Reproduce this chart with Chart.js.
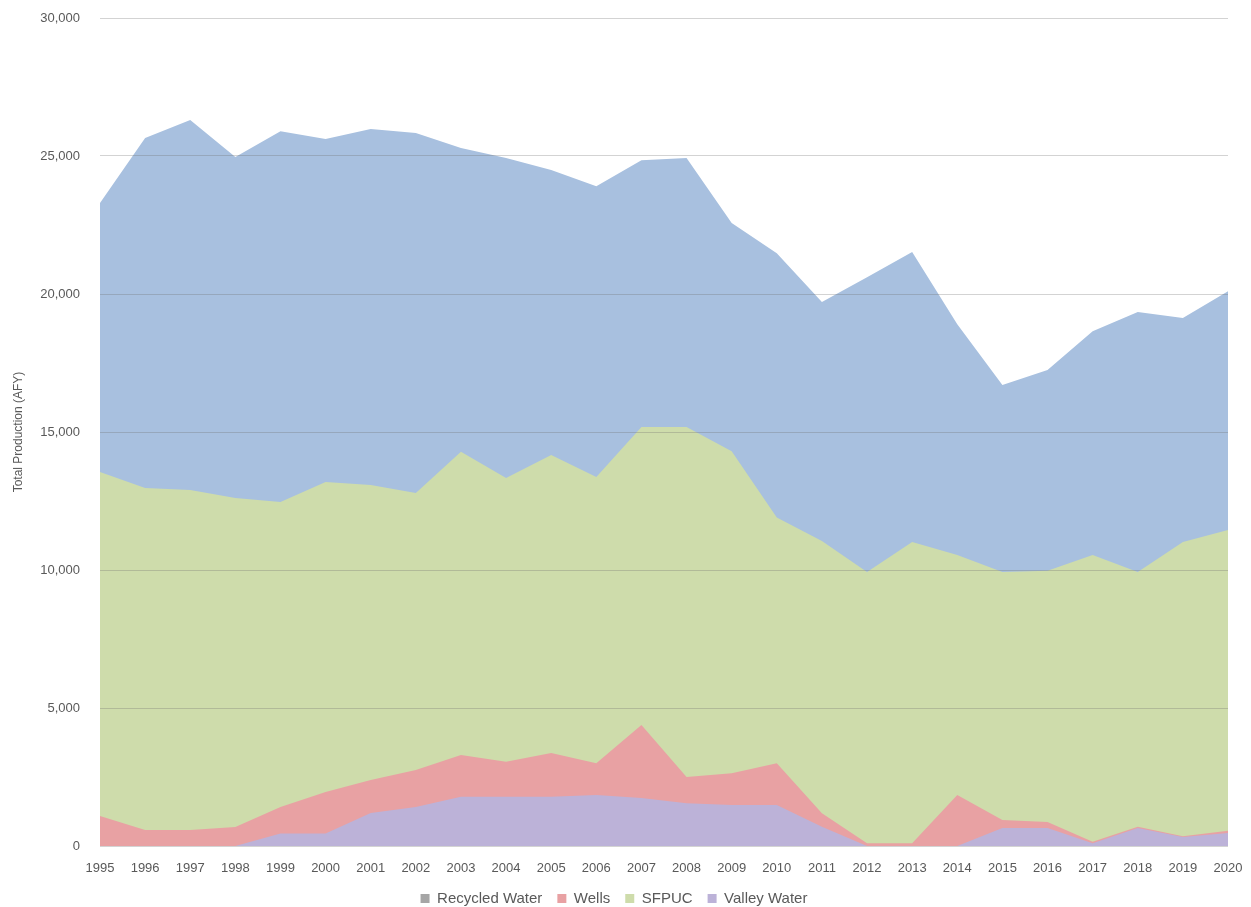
<!DOCTYPE html>
<html>
<head>
<meta charset="utf-8">
<script src="https://cdn.jsdelivr.net/npm/chart.js@4"></script>
<style>
    html, body { margin: 0; padding: 0; background: #fff; }
    #wrap { width: 1251px; height: 907px; }
</style>
</head>
<body>
<div id="wrap"><canvas id="productionChart" width="1251" height="907"></canvas></div>
<script>
// Years on the x axis
const years = ['1995', '1996', '1997', '1998', '1999', '2000', '2001', '2002', '2003', '2004', '2005', '2006', '2007',
    '2008', '2009', '2010', '2011', '2012', '2013', '2014', '2015', '2016', '2017', '2018', '2019', '2020'];

// Top edge of each area (AFY)
const totalProduction = [23300, 25650, 26300, 24960, 25900, 25620, 25980, 25830, 25290, 24930, 24490, 23900, 24850,
    24930, 22570, 21480, 19710, 20610, 21520, 18900, 16700, 17250, 18650, 19350, 19130, 20100];
const sfpuc = [13550, 12970, 12900, 12610, 12460, 13190, 13080, 12790, 14280, 13330, 14170, 13370, 15180,
    15180, 14300, 11900, 11050, 9930, 11010, 10540, 9930, 9970, 10540, 9930, 11010, 11450];
const wells = [1090, 580, 580, 690, 1410, 1960, 2390, 2750, 3300, 3050, 3370, 3000, 4380,
    2500, 2640, 3000, 1190, 100, 100, 1850, 940, 870, 150, 700, 350, 550];
const valleyWater = [0, 0, 0, 0, 450, 450, 1200, 1410, 1780, 1780, 1780, 1850, 1740,
    1550, 1490, 1490, 700, 0, 0, 0, 650, 650, 100, 650, 330, 470];
// Recycled Water is in the legend but no area of it can be seen
const recycledWater = [];

const yTicks = [0, 5000, 10000, 15000, 20000, 25000, 30000];

const textColor = '#595959';
const fontFamily = "'Liberation Sans', Arial, sans-serif";

function areaSet(label, data, color, order) {
    return {
        label: label,
        data: data,
        backgroundColor: color,
        borderColor: color,
        borderWidth: 0,
        pointRadius: 0,
        pointHoverRadius: 0,
        tension: 0,
        fill: 'origin',
        order: order
    };
}

const ctx = document.getElementById('productionChart').getContext('2d');
new Chart(ctx, {
    type: 'line',
    data: {
        labels: years,
        datasets: [
            areaSet('Recycled Water', recycledWater, '#a6a6a6', 4),
            areaSet('Wells', wells, '#e8a1a3', 1),
            areaSet('SFPUC', sfpuc, '#cedcab', 2),
            areaSet('Valley Water', valleyWater, '#bcb2d8', 0),
            areaSet('Total', totalProduction, '#a8c0df', 3)
        ]
    },
    options: {
        responsive: false,
        animation: false,
        layout: { padding: { top: 18, right: 23, left: 0, bottom: -9 } },
        plugins: {
            tooltip: { enabled: false },
            legend: {
                position: 'bottom',
                labels: {
                    boxWidth: 9,
                    boxHeight: 9,
                    padding: 15,
                    color: textColor,
                    font: { family: fontFamily, size: 15 },
                    sort: (a, b) => a.datasetIndex - b.datasetIndex,
                    filter: (item) => item.text !== 'Total'
                }
            }
        },
        scales: {
            x: {
                offset: false,
                grid: { display: false, drawTicks: false },
                border: { display: false },
                ticks: {
                    color: textColor,
                    font: { family: fontFamily, size: 13 },
                    padding: 15,
                    maxRotation: 0,
                    autoSkip: false
                },
                afterFit: (scale) => {
                    scale.height = 30;
                    scale.paddingLeft = 0;
                    scale.paddingRight = 0;
                }
            },
            y: {
                min: 0,
                max: 30000,
                z: 1,
                afterBuildTicks: (scale) => { scale.ticks = yTicks.map(v => ({ value: v })); },
                grid: { color: 'rgba(110,110,110,0.3)', drawTicks: false, z: 1 },
                border: { display: false },
                ticks: {
                    color: textColor,
                    font: { family: fontFamily, size: 13 },
                    padding: 20,
                    callback: (value) => value.toLocaleString('en-US')
                },
                title: {
                    display: true,
                    text: 'Total Production (AFY)',
                    color: textColor,
                    font: { family: fontFamily, size: 12 },
                    padding: { top: 11, bottom: 4 }
                },
                afterFit: (scale) => {
                    scale.width = 100;
                    scale.paddingTop = 0;
                    scale.paddingBottom = 0;
                }
            }
        }
    }
});
</script>
</body>
</html>
